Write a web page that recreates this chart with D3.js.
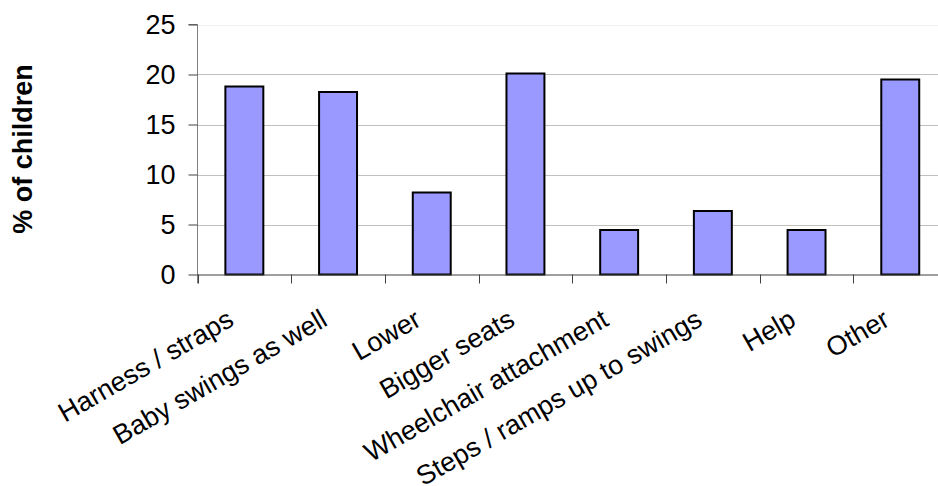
<!DOCTYPE html>
<html><head><meta charset="utf-8">
<script src="https://cdn.jsdelivr.net/npm/d3@7"></script>
<style>body{margin:0;background:#fff}svg{display:block}text{font-family:"Liberation Sans",Arial,sans-serif}</style>
</head><body><div id="chart"></div>
<script>
const categories = ["Harness / straps","Baby swings as well","Lower","Bigger seats","Wheelchair attachment","Steps / ramps up to swings","Help","Other"];
const values = [18.8, 18.25, 8.2, 20.1, 4.45, 6.35, 4.45, 19.5];
const yTicks = [0,5,10,15,20,25];
const yTitle = "% of children";

const W = 938, H = 486;
const svg = d3.select("#chart").append("svg").attr("width",W).attr("height",H);
const x0 = 197.5, y0 = 274.5, yTop = 24.5, band = 93.7;
const x = d3.scaleBand().domain(categories).range([x0, x0 + band*categories.length]).paddingInner(0.595).paddingOuter(0.2975);
const y = d3.scaleLinear().domain([0,25]).range([y0, yTop]);

// gridlines
svg.append("g").selectAll("line").data(yTicks.filter(d=>d>0)).join("line")
  .attr("x1", x0).attr("x2", W).attr("y1", d=>Math.round(y(d))+0.5).attr("y2", d=>Math.round(y(d))+0.5)
  .attr("stroke", d=> d===25 ? "#f2f2f2" : "#c0c0c0").attr("stroke-width",1);

// bars
svg.append("g").selectAll("rect").data(values).join("rect")
  .attr("x",(d,i)=>x(categories[i])).attr("width",x.bandwidth())
  .attr("y",d=>y(d)).attr("height",d=>y0-y(d))
  .attr("fill","#9999ff").attr("stroke","#000").attr("stroke-width",2);

// y axis
const yAxis = d3.axisLeft(y).tickValues(yTicks).tickSize(9).tickPadding(13);
const gy = svg.append("g").attr("transform",`translate(${x0},0)`).call(yAxis);
gy.select(".domain").attr("stroke","#808080").attr("d",`M-9,${yTop}H0V${y0+9}`);
gy.selectAll(".tick line").attr("stroke","#404040");
gy.selectAll("text").attr("font-size",27).attr("fill","#000").attr("font-family","Liberation Sans, Arial, sans-serif");

// x axis
const xb = d3.scaleLinear().domain([0,categories.length]).range([x0, x0+band*categories.length]);
const gx = svg.append("g").attr("transform",`translate(0,${y0})`);
gx.append("line").attr("x1",x0).attr("x2",W).attr("y1",0.5).attr("y2",0.5).attr("stroke","#404040").attr("stroke-width",1.2);
gx.selectAll("line.t").data(d3.range(0,categories.length+1)).join("line").attr("class","t")
  .attr("x1",d=>Math.round(xb(d))+0.5).attr("x2",d=>Math.round(xb(d))+0.5).attr("y1",0).attr("y2",9)
  .attr("stroke","#404040");
gx.selectAll("text").data(categories).join("text")
  .attr("transform",d=>`translate(${x(d)+x.bandwidth()/2-9},${50}) rotate(-30)`)
  .attr("text-anchor","end").attr("font-size",27).attr("fill","#000").text(d=>d);

// y title
svg.append("text").attr("transform",`translate(32,149) rotate(-90)`).attr("text-anchor","middle")
  .attr("font-size",27).attr("font-weight","bold").text(yTitle);
</script></body></html>
